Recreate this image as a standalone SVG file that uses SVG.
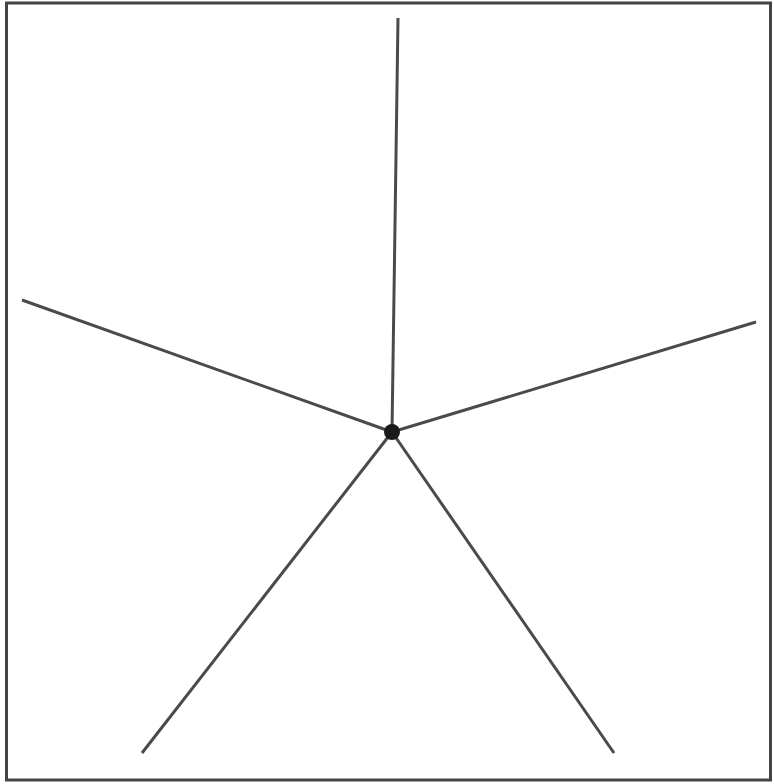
<svg xmlns="http://www.w3.org/2000/svg" width="774" height="784" viewBox="0 0 774 784">
<style>
.edge{stroke:#4a4a4a;stroke-width:3;stroke-linecap:butt;fill:none}
</style>
<rect x="0" y="0" width="774" height="784" fill="#fff"/>
<rect x="6.5" y="3" width="764" height="777" fill="none" stroke="#444" stroke-width="3"/>
<g id="connectors">
<line class="edge" x1="392" y1="432" x2="398" y2="18"/>
<line class="edge" x1="392" y1="432" x2="22" y2="300"/>
<line class="edge" x1="392" y1="432" x2="756" y2="322"/>
<line class="edge" x1="392" y1="432" x2="142" y2="753"/>
<line class="edge" x1="392" y1="432" x2="614" y2="753"/>
</g>
<g id="hub">
<circle cx="392" cy="432" r="8" fill="#1a1a1a"/>
</g>
</svg>
